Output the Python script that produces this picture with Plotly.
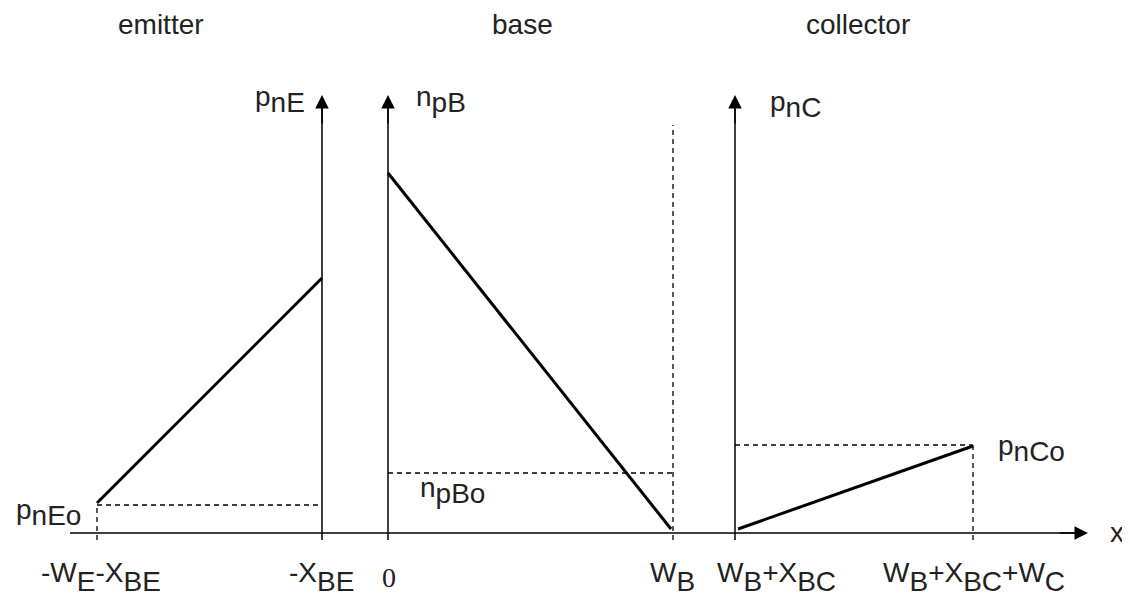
import plotly.graph_objects as go

# diagram units: x along the device (px-like), n = carrier density above the x axis
region_names = ["emitter", "base", "collector"]
region_x = [161, 522, 858]

tick_x = [97, 322, 388, 673, 735, 973]
tick_text = ["-W_E-X_BE", "-X_BE", "0", "W_B", "W_B+X_BC", "W_B+X_BC+W_C"]
tick_label_x = [101, 321, 389, 672, 776, 974]

# minority carrier profiles (straight lines)
emitter_x = [97, 322]
emitter_n = [30, 255]
base_x = [388, 671]
base_n = [360, 4]
collector_x = [738, 973]
collector_n = [4, 87]

# equilibrium levels
p_nEo = 28
n_pBo = 60
p_nCo = 88

axis_top = 438
x_end = 1088
x_start = 70
wb_top = 408


def sub(main, s, shift="-0.32em"):
    # full size subscript, just dropped below the baseline
    return main + "<span style='baseline-shift:%s'>%s</span>" % (shift, s)


def tick_html(t):
    if t == "0":
        return "<span style='font-family:Liberation Serif'>0</span>"
    out = ""
    for part in t.replace("-", " -").replace("+", " +").split(" "):
        if not part:
            continue
        sign = part[0] if part[0] in "+-" else ""
        body = part[len(sign):]
        if "_" in body:
            m, s = body.split("_")
            out += sign + sub(m, s)
        else:
            out += sign + body
    return out


fig = go.Figure()

black = "#000000"
txt = "#222222"

# x axis line
fig.add_trace(go.Scatter(x=[x_start, x_end - 8], y=[0, 0], mode="lines",
                         line=dict(color=black, width=1.5), hoverinfo="skip"))

# vertical axes at -X_BE, 0 and W_B+X_BC
for xv in [tick_x[1], tick_x[2], tick_x[4]]:
    fig.add_trace(go.Scatter(x=[xv, xv], y=[-7, axis_top - 8], mode="lines",
                             line=dict(color=black, width=1.5), hoverinfo="skip"))
    fig.add_annotation(x=xv, y=axis_top, ax=xv, ay=axis_top - 30, xref="x", yref="y",
                       axref="x", ayref="y", showarrow=True, arrowhead=2,
                       arrowsize=1.8, arrowwidth=1.5, arrowcolor=black, text="")

fig.add_annotation(x=x_end, y=0, ax=x_end - 30, ay=0, xref="x", yref="y",
                   axref="x", ayref="y", showarrow=True, arrowhead=2,
                   arrowsize=1.8, arrowwidth=1.5, arrowcolor=black, text="")

dash = dict(color=black, width=1.3, dash="5px,4px")

# W_B boundary
fig.add_trace(go.Scatter(x=[tick_x[3], tick_x[3]], y=[-7, wb_top], mode="lines",
                         line=dash, hoverinfo="skip"))
# emitter equilibrium
fig.add_trace(go.Scatter(x=[tick_x[0], tick_x[1]], y=[p_nEo, p_nEo], mode="lines",
                         line=dash, hoverinfo="skip"))
fig.add_trace(go.Scatter(x=[tick_x[0], tick_x[0]], y=[-7, p_nEo], mode="lines",
                         line=dash, hoverinfo="skip"))
# base equilibrium
fig.add_trace(go.Scatter(x=[tick_x[2], tick_x[3]], y=[n_pBo, n_pBo], mode="lines",
                         line=dash, hoverinfo="skip"))
# collector equilibrium
fig.add_trace(go.Scatter(x=[tick_x[4], tick_x[5]], y=[p_nCo, p_nCo], mode="lines",
                         line=dash, hoverinfo="skip"))
fig.add_trace(go.Scatter(x=[tick_x[5], tick_x[5]], y=[-7, p_nCo], mode="lines",
                         line=dash, hoverinfo="skip"))

# carrier profiles
for xs, ns in [(emitter_x, emitter_n), (base_x, base_n), (collector_x, collector_n)]:
    fig.add_trace(go.Scatter(x=xs, y=ns, mode="lines",
                             line=dict(color=black, width=3), hoverinfo="skip"))

font = dict(family="Liberation Sans, Arial", size=28, color=txt)

for name, xv in zip(region_names, region_x):
    fig.add_annotation(x=xv, y=509, text=name, showarrow=False, font=font)

for xv, t in zip(tick_label_x, tick_text):
    fig.add_annotation(x=xv, y=-44, text=tick_html(t), showarrow=False, font=font)

fig.add_annotation(x=1117, y=1, text="x", showarrow=False, font=font)

labels = [
    (280, 434, sub("p", "nE", "-0.2em")),
    (441, 434, sub("n", "pB", "-0.2em")),
    (795, 429, sub("p", "nC", "-0.2em")),
    (48, 21, sub("p", "nEo", "-0.2em")),
    (452, 43, sub("n", "pBo", "-0.2em")),
    (1031, 85, sub("p", "nCo", "-0.2em")),
]
for xv, yv, t in labels:
    fig.add_annotation(x=xv, y=yv, text=t, showarrow=False, font=font)

# the page body adds 8px, so the figure covers reference pixels 8..1130 / 8..597
fig.update_layout(
    width=1122, height=589,
    margin=dict(l=0, r=0, t=0, b=0),
    paper_bgcolor="white", plot_bgcolor="white",
    showlegend=False,
    xaxis=dict(range=[8, 1130], visible=False, fixedrange=True),
    yaxis=dict(range=[-64, 525], visible=False, fixedrange=True),
)

fig.write_html("out.html")
